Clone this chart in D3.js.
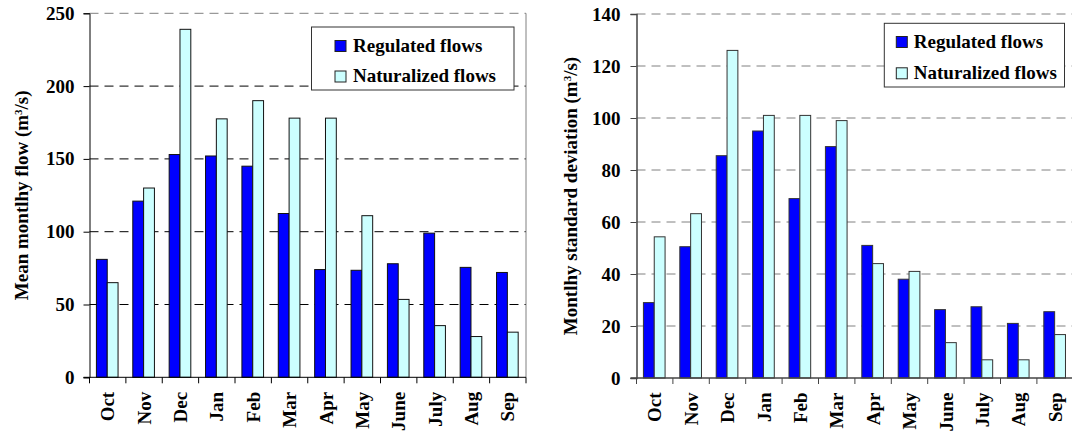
<!DOCTYPE html>
<html>
<head>
<meta charset="utf-8">
<script src="https://cdn.jsdelivr.net/npm/d3@7"></script>
<style>
  html, body { margin: 0; padding: 0; background: #fff; }
  svg { display: block; }
  text { font-family: "Liberation Serif", "Times New Roman", serif; font-weight: bold; fill: #000; }
</style>
</head>
<body>
<svg id="chart" width="1072" height="432"></svg>
<script>
// Months of the water year
const months = ["Oct", "Nov", "Dec", "Jan", "Feb", "Mar", "Apr", "May", "June", "July", "Aug", "Sep"];

// Mean monthly flow (m3/s)
const meanRegulated   = [81, 121, 153, 152, 145, 112.5, 74, 73.5, 78, 99, 75.5, 72];
const meanNaturalized = [65, 130, 239, 177.5, 190, 178, 178, 111, 53.5, 35.5, 28, 31];

// Monthly standard deviation (m3/s)
const sdRegulated   = [29, 50.5, 85.5, 95, 69, 89, 51, 38, 26.3, 27.4, 21, 25.5];
const sdNaturalized = [54.3, 63.2, 126, 101, 101, 99, 44, 41, 13.6, 7, 7, 16.7];

// Axis ticks
const meanTicks = [0, 50, 100, 150, 200, 250];
const sdTicks   = [0, 20, 40, 60, 80, 100, 120, 140];

const seriesNames = ["Regulated flows", "Naturalized flows"];
const seriesColors = ["#0000ff", "#ccffff"];

const FONT_SIZE = "19px";
const svg = d3.select("#chart");

function drawPanel(cfg) {
  const g = svg.append("g");
  const x = d3.scaleBand().domain(months).range([cfg.left, cfg.right]);
  const y = d3.scaleLinear().domain([0, cfg.max]).range([cfg.bottom, cfg.top]);
  const bw = x.bandwidth();
  const inner = d3.scaleBand().domain([0, 1]).range([0.19 * bw, 0.785 * bw]);

  // dashed horizontal gridlines
  g.selectAll("line.grid")
    .data(cfg.ticks.filter(t => t > 0))
    .join("line")
    .attr("class", "grid")
    .attr("x1", cfg.left).attr("x2", Math.min(cfg.right, 1072))
    .attr("y1", d => y(d)).attr("y2", d => y(d))
    .attr("stroke", d => d === cfg.max ? "#808080" : cfg.gridColor)
    .attr("stroke-width", 1)
    .attr("stroke-dasharray", "9,6");

  // plot area right border
  if (cfg.right < 1072) {
    g.append("line")
      .attr("x1", cfg.right).attr("x2", cfg.right)
      .attr("y1", cfg.top).attr("y2", cfg.bottom)
      .attr("stroke", "#808080").attr("stroke-width", 1);
  }

  // bars
  const rows = months.map((m, i) => ({ m, vals: [cfg.reg[i], cfg.nat[i]] }));
  const grp = g.selectAll("g.month").data(rows).join("g")
    .attr("transform", d => `translate(${x(d.m)},0)`);
  grp.selectAll("rect")
    .data(d => d.vals.map((v, k) => ({ v, k })))
    .join("rect")
    .attr("x", d => inner(d.k))
    .attr("width", inner.bandwidth())
    .attr("y", d => y(d.v))
    .attr("height", d => y(0) - y(d.v))
    .attr("fill", d => seriesColors[d.k])
    .attr("stroke", cfg.barStroke)
    .attr("stroke-width", 1);

  // y axis
  const yAxis = d3.axisLeft(y).tickValues(cfg.ticks).tickSize(6).tickPadding(cfg.tickPad).tickFormat(d3.format("d"));
  const ya = g.append("g").attr("transform", `translate(${cfg.left},0)`).call(yAxis);
  ya.select(".domain").attr("stroke", cfg.axisColor).attr("stroke-width", cfg.axisWidth);
  ya.selectAll(".tick line").attr("stroke", cfg.axisColor);
  ya.selectAll(".tick text")
    .style("font-family", '"Liberation Serif", "Times New Roman", serif')
    .style("font-weight", "bold").style("font-size", FONT_SIZE).attr("fill", "#000");

  // x axis baseline and tick marks at band edges
  g.append("line")
    .attr("x1", cfg.left - 6).attr("x2", Math.min(cfg.right, 1072))
    .attr("y1", y(0)).attr("y2", y(0))
    .attr("stroke", cfg.axisColor).attr("stroke-width", cfg.axisWidth);
  const edges = months.map(m => x(m)).concat([cfg.right]);
  g.selectAll("line.xtick").data(edges).join("line")
    .attr("class", "xtick")
    .attr("x1", d => d).attr("x2", d => d)
    .attr("y1", y(0)).attr("y2", y(0) + 6)
    .attr("stroke", cfg.axisColor);

  // rotated month labels
  g.selectAll("text.month").data(months).join("text")
    .attr("class", "month")
    .attr("transform", d => `translate(${x(d) + bw / 2},${y(0) + 14.5}) rotate(-90)`)
    .attr("text-anchor", "end")
    .attr("dy", "0.35em")
    .style("font-size", FONT_SIZE)
    .text(d => d);

  // y axis title
  const title = g.append("text")
    .attr("transform", `translate(${cfg.titleX},${(cfg.top + cfg.bottom) / 2}) rotate(-90)`)
    .attr("text-anchor", "middle")
    .style("font-size", FONT_SIZE);
  title.append("tspan").text(cfg.title + " (m");
  title.append("tspan").attr("baseline-shift", "super").style("font-size", "11px").text("3");
  title.append("tspan").text("/s)");

  // legend
  const L = cfg.legend;
  const lg = g.append("g");
  lg.append("rect")
    .attr("x", L.x).attr("y", L.y).attr("width", L.w).attr("height", L.h)
    .attr("fill", "#fff").attr("stroke", "#333").attr("stroke-width", 1);
  seriesNames.forEach((name, k) => {
    const base = L.y + L.first + k * L.step;
    lg.append("rect")
      .attr("x", L.x + L.sw).attr("y", base - 11).attr("width", 11).attr("height", 11)
      .attr("fill", seriesColors[k]).attr("stroke", "#222").attr("stroke-width", 1);
    lg.append("text")
      .attr("x", L.x + L.tx).attr("y", base)
      .style("font-size", FONT_SIZE)
      .text(name);
  });
}

drawPanel({
  left: 89.5, right: 526, top: 13.3, bottom: 377.3, max: 250,
  ticks: meanTicks, reg: meanRegulated, nat: meanNaturalized,
  gridColor: "#000", axisColor: "#000", axisWidth: 1, barStroke: "#111",
  tickPad: 9, titleX: 28, title: "Mean montlhy flow",
  legend: { x: 311.5, y: 27, w: 202.5, h: 63, sw: 23.5, tx: 41.5, first: 24.5, step: 30.5 }
});

drawPanel({
  left: 636.5, right: 1073.3, top: 14, bottom: 378, max: 140,
  ticks: sdTicks, reg: sdRegulated, nat: sdNaturalized,
  gridColor: "#808080", axisColor: "#444", axisWidth: 1.5, barStroke: "#333",
  tickPad: 10, titleX: 577, title: "Montlhy standard deviation",
  legend: { x: 884.3, y: 23.3, w: 180.2, h: 63.7, sw: 12, tx: 29.5, first: 24.2, step: 31.3 }
});
</script>
</body>
</html>
